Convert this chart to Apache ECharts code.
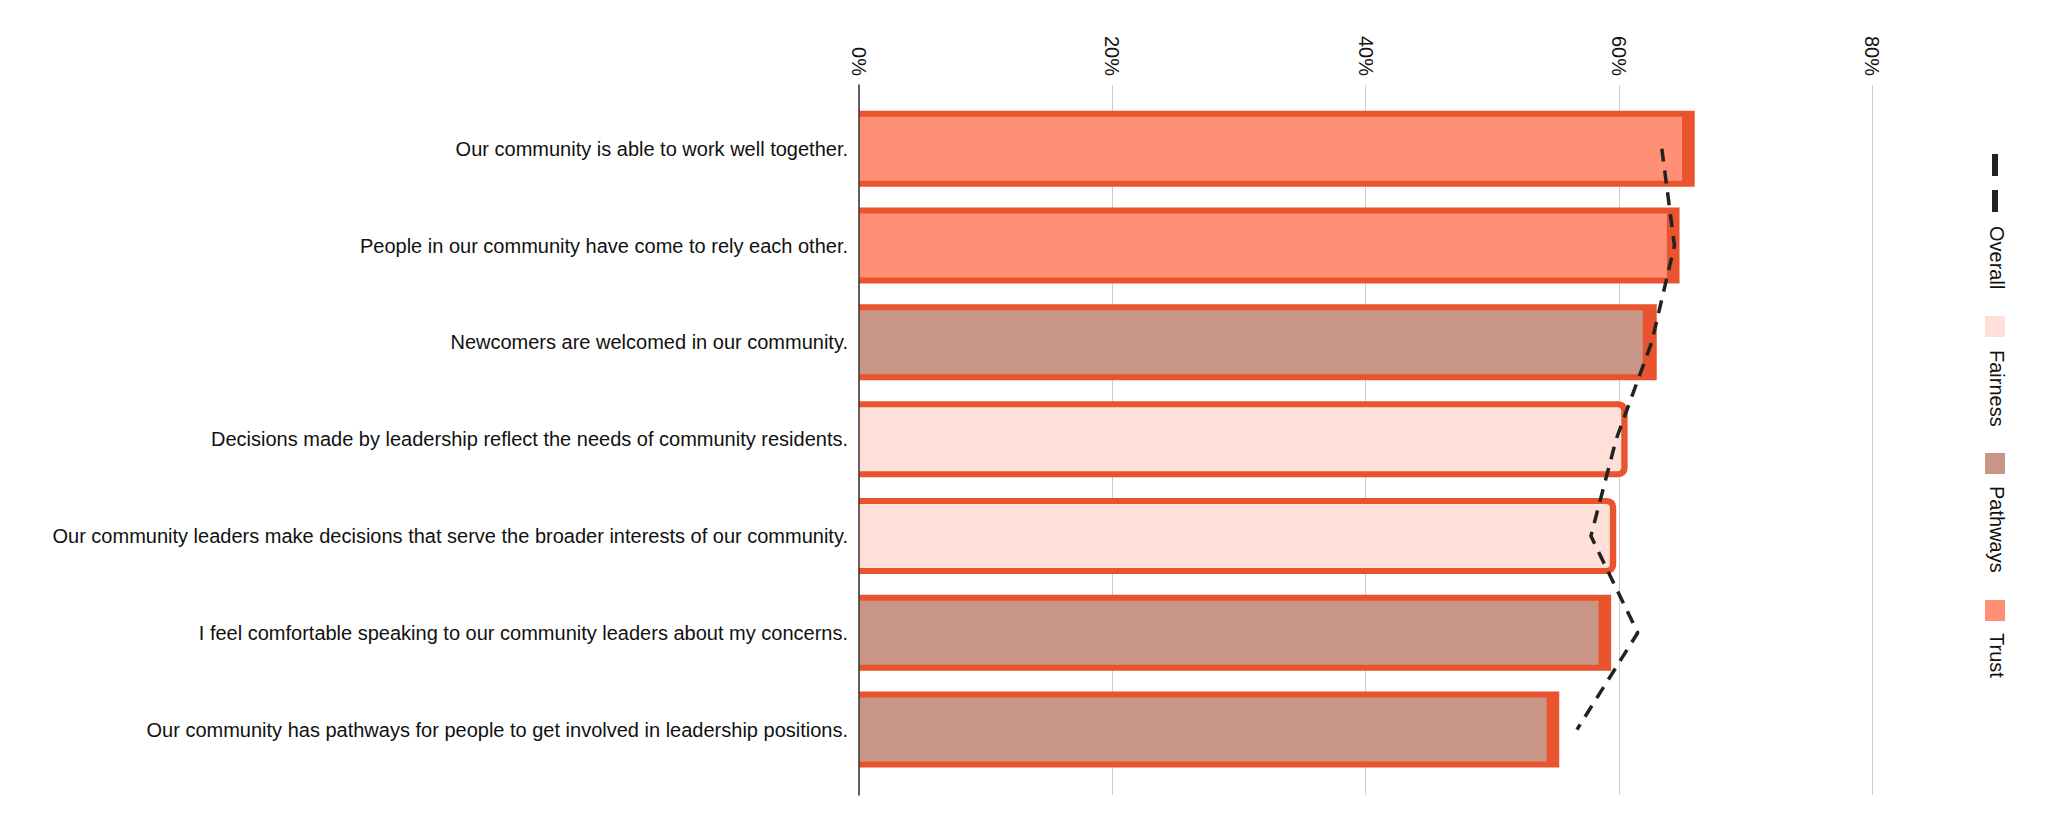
<!DOCTYPE html>
<html>
<head>
<meta charset="utf-8">
<script src="https://cdn.jsdelivr.net/npm/echarts@6/dist/echarts.min.js"></script>
<style>
html,body{margin:0;padding:0;background:#fff;}
#chart{width:2047px;height:836px;}
</style>
</head>
<body>
<div id="chart"></div>
<script>
// ---- data ----
const categories = [
  'Our community is able to work well together.',
  'People in our community have come to rely each other.',
  'Newcomers are welcomed in our community.',
  'Decisions made by leadership reflect the needs of community residents.',
  'Our community leaders make decisions that serve the broader interests of our community.',
  'I feel comfortable speaking to our community leaders about my concerns.',
  'Our community has pathways for people to get involved in leadership positions.'
];
const dimensions = ['Trust', 'Trust', 'Pathways', 'Fairness', 'Fairness', 'Pathways', 'Pathways'];
const scoreValues = [66.0, 64.8, 63.0, 60.7, 59.8, 59.4, 55.3];
const fillValues = [65.0, 63.8, 61.9, 60.2, 59.3, 58.4, 54.3];
const overallValues = [63.4, 64.4, 62.6, 59.8, 57.8, 61.5, 56.7];
const xMin = 0, xMax = 80, xInterval = 20;
const legendNames = ['Overall', 'Fairness', 'Pathways', 'Trust'];

// ---- style ----
const FONT = '"Liberation Sans", Arial, Helvetica, sans-serif';
const RED = '#E9532D';
const COLORS = { Trust: '#FF9075', Pathways: '#C99587', Fairness: '#FEE0D8' };

const chart = echarts.init(document.getElementById('chart'), null, { renderer: 'svg' });

const fillSeries = ['Trust', 'Pathways', 'Fairness'].map(name => ({
  name: name,
  type: 'bar',
  xAxisIndex: 1,
  yAxisIndex: 2,
  barWidth: 64,
  barGap: '-100%',
  z: 3,
  itemStyle: {
    color: COLORS[name],
    borderRadius: name === 'Fairness' ? [0, 4, 4, 0] : 0
  },
  data: fillValues.map((v, i) => dimensions[i] === name ? v : '-')
}));

const option = {
  backgroundColor: '#fff',
  animation: false,
  textStyle: { fontFamily: FONT },
  grid: [
    { left: 859, right: 175, top: 85, bottom: 41 },
    { left: 859, right: 175, top: 100.3, bottom: 58 }
  ],
  xAxis: [
    {
      gridIndex: 0, type: 'value', position: 'top',
      min: xMin, max: xMax, interval: xInterval,
      axisLine: { show: false }, axisTick: { show: false },
      axisLabel: { formatter: '{value}%', rotate: -90, fontSize: 20, color: '#111', margin: 9, fontFamily: FONT },
      splitLine: { show: true, lineStyle: { color: '#cccccc', width: 1 } }
    },
    { gridIndex: 1, type: 'value', min: xMin, max: xMax, interval: xInterval, show: false }
  ],
  yAxis: [
    {
      gridIndex: 0, type: 'value', min: 0, max: 1, z: 10,
      axisLine: { show: true, lineStyle: { color: '#333', width: 1.5 } },
      axisTick: { show: false }, axisLabel: { show: false }, splitLine: { show: false }
    },
    {
      gridIndex: 1, type: 'category', inverse: true, data: categories,
      axisLine: { show: false }, axisTick: { show: false }, splitLine: { show: false },
      axisLabel: { fontSize: 20, color: '#111', margin: 11, fontFamily: FONT }
    },
    { gridIndex: 1, type: 'category', inverse: true, data: categories, show: false }
  ],
  series: [
    {
      name: 'Score',
      type: 'bar',
      xAxisIndex: 1,
      yAxisIndex: 1,
      barWidth: 76,
      z: 2,
      itemStyle: { color: RED },
      data: scoreValues.map((v, i) => ({
        value: v,
        itemStyle: { borderRadius: dimensions[i] === 'Fairness' ? [0, 9, 9, 0] : 0 }
      }))
    },
    ...fillSeries,
    {
      name: 'Overall',
      type: 'line',
      xAxisIndex: 1,
      yAxisIndex: 1,
      symbol: 'none',
      z: 5,
      lineStyle: { color: '#222', width: 3.5, type: [13, 9] },
      data: overallValues
    }
  ],
  graphic: [
    // legend: Overall (dashed line icon)
    { type: 'line', shape: { x1: 1995, y1: 154, x2: 1995, y2: 212 },
      style: { stroke: '#222', lineWidth: 6, lineDash: [22, 14] } },
    { type: 'text', x: 1997, y: 226, rotation: -Math.PI / 2,
      style: { text: legendNames[0], font: '20px ' + FONT, fill: '#111', align: 'left', verticalAlign: 'middle' } },
    // Fairness
    { type: 'rect', shape: { x: 1985, y: 316, width: 20, height: 21 }, style: { fill: COLORS.Fairness } },
    { type: 'text', x: 1997, y: 350, rotation: -Math.PI / 2,
      style: { text: legendNames[1], font: '20px ' + FONT, fill: '#111', align: 'left', verticalAlign: 'middle' } },
    // Pathways
    { type: 'rect', shape: { x: 1985, y: 453, width: 20, height: 21 }, style: { fill: COLORS.Pathways } },
    { type: 'text', x: 1997, y: 486, rotation: -Math.PI / 2,
      style: { text: legendNames[2], font: '20px ' + FONT, fill: '#111', align: 'left', verticalAlign: 'middle' } },
    // Trust
    { type: 'rect', shape: { x: 1985, y: 600, width: 20, height: 21 }, style: { fill: COLORS.Trust } },
    { type: 'text', x: 1997, y: 633, rotation: -Math.PI / 2,
      style: { text: legendNames[3], font: '20px ' + FONT, fill: '#111', align: 'left', verticalAlign: 'middle' } }
  ]
};
chart.setOption(option);
</script>
</body>
</html>
